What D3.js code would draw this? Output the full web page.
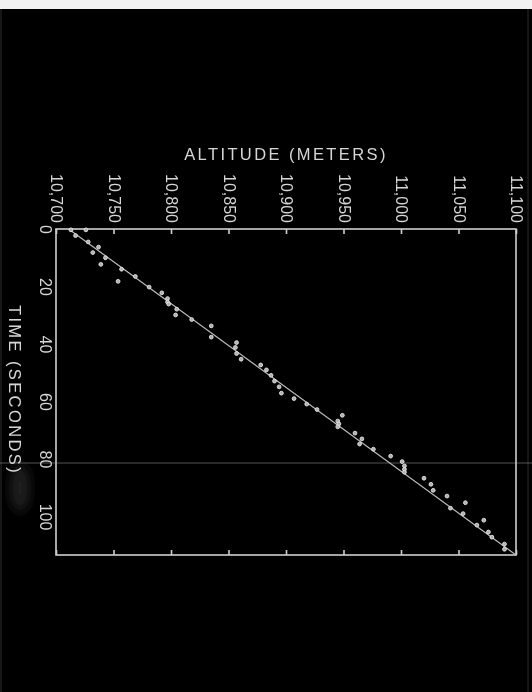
<!DOCTYPE html>
<html>
<head>
<meta charset="utf-8">
<script src="https://cdn.jsdelivr.net/npm/d3@7"></script>
<style>
  body { margin: 0; background: #000; }
  svg { display: block; }
  text { font-family: "Liberation Sans", Arial, sans-serif; fill: #d6d6d6; }
</style>
</head>
<body>
<svg id="chart" width="532" height="692"></svg>
<script>
// data
const altTicks = [10700, 10750, 10800, 10850, 10900, 10950, 11000, 11050, 11100];
const timeTicks = [0, 20, 40, 60, 80, 100];

const altitude = [
  10713, 10726, 10717, 10728, 10737, 10732, 10743, 10739, 10757, 10754,
  10769, 10781, 10792, 10797, 10797, 10798, 10805, 10804, 10818, 10835,
  10835, 10857, 10856, 10857, 10861, 10878, 10883, 10887, 10890, 10894,
  10896, 10907, 10918, 10927, 10949, 10945, 10946, 10945, 10960, 10966,
  10964, 10976, 10991, 11001, 11003, 11003, 11003, 11020, 11026, 11028,
  11040, 11043, 11056, 11054, 11066, 11072, 11076, 11079, 11090, 11090
];
const time = [
  0.3, 0.3, 2.3, 4.5, 6.3, 8.2, 10.0, 12.3, 14.0, 18.2,
  16.5, 20.2, 22.2, 24.2, 25.4, 26.1, 27.9, 29.9, 31.5, 33.7,
  37.6, 39.5, 41.2, 43.3, 45.3, 47.3, 49.0, 50.9, 52.9, 54.9,
  57.1, 59.0, 60.9, 62.8, 64.8, 66.8, 67.8, 68.8, 71.0, 73.0,
  74.8, 76.6, 79.0, 80.9, 82.4, 83.6, 84.6, 86.7, 88.8, 90.9,
  92.9, 97.1, 95.2, 99.0, 103.0, 101.3, 105.4, 107.2, 109.6, 111.4
];

const fitAltitude = [10711, 11100];
const fitTime = [0, 113.4];

const svg = d3.select('#chart');
const W = 532, H = 692;

// Plotbereich
const mLeft = 56, mRight = 516, mTop = 229, mBottom = 555;

const x = d3.scaleLinear().domain([10700, 11100]).range([mLeft, mRight]);
const y = d3.scaleLinear().domain([0, 113.4]).range([mTop, mBottom]);

const defs = svg.append('defs');
defs.append('filter').attr('id', 'soft')
  .append('feGaussianBlur').attr('stdDeviation', 0.45);
defs.append('filter').attr('id', 'smudge')
  .attr('x', '-50%').attr('y', '-50%').attr('width', '200%').attr('height', '200%')
  .append('feGaussianBlur').attr('stdDeviation', 6);

// photo background
svg.append('rect').attr('width', W).attr('height', H).attr('fill', '#000');
svg.append('rect').attr('width', W).attr('height', 9).attr('fill', '#f2f2f2');
svg.append('line')
  .attr('x1', 528).attr('x2', 528).attr('y1', 9).attr('y2', H)
  .attr('stroke', '#2a2a2a').attr('stroke-width', 1);
svg.append('line')
  .attr('x1', 1).attr('x2', 1).attr('y1', 9).attr('y2', H)
  .attr('stroke', '#2e2e2e').attr('stroke-width', 1);
svg.append('ellipse')
  .attr('cx', 20).attr('cy', 488).attr('rx', 9).attr('ry', 24)
  .attr('fill', '#222').attr('filter', 'url(#smudge)');
// crease across the print
svg.append('line')
  .attr('x1', 0).attr('x2', W).attr('y1', 463).attr('y2', 463)
  .attr('stroke', '#8a8a8a').attr('stroke-width', 0.8).attr('opacity', 0.75);

const g = svg.append('g').attr('filter', 'url(#soft)');

// box
g.append('rect')
  .attr('x', mLeft).attr('y', mTop)
  .attr('width', mRight - mLeft).attr('height', mBottom - mTop)
  .attr('fill', 'none').attr('stroke', '#cfcfcf').attr('stroke-width', 1.6);

// top axis: ticks inward, labels rotated
const topAxis = g.append('g')
  .attr('transform', `translate(0,${mTop})`)
  .call(d3.axisTop(x).tickValues(altTicks).tickSize(-5).tickPadding(6).tickFormat(d3.format(',')));
topAxis.select('.domain').remove();
topAxis.selectAll('line').attr('stroke', '#cfcfcf').attr('stroke-width', 1.6);
topAxis.selectAll('text')
  .attr('y', 0).attr('dy', 0)
  .attr('transform', 'translate(0,-6) rotate(90)')
  .attr('text-anchor', 'end')
  .attr('dominant-baseline', 'central')
  .style('font-size', '16px')
  .attr('fill', '#d6d6d6');

// bottom axis: ticks only
const botAxis = g.append('g')
  .attr('transform', `translate(0,${mBottom})`)
  .call(d3.axisBottom(x).tickValues(altTicks).tickSize(-5).tickFormat(''));
botAxis.select('.domain').remove();
botAxis.selectAll('line').attr('stroke', '#cfcfcf').attr('stroke-width', 1.6);

// left axis: labels only
const leftAxis = g.append('g')
  .attr('transform', `translate(${mLeft},0)`)
  .call(d3.axisLeft(y).tickValues(timeTicks).tickSize(0).tickFormat(d3.format('d')));
leftAxis.select('.domain').remove();
leftAxis.selectAll('text')
  .attr('x', 0).attr('dy', 0)
  .attr('transform', 'translate(-11,0) rotate(90)')
  .attr('text-anchor', 'middle')
  .attr('dominant-baseline', 'central')
  .style('font-size', '16px')
  .attr('fill', '#d6d6d6');

// titles
g.append('text')
  .attr('x', 286).attr('y', 160)
  .attr('text-anchor', 'middle')
  .style('font-size', '16.5px')
  .style('letter-spacing', '2.4px')
  .text('ALTITUDE  (METERS)');

g.append('text')
  .attr('transform', 'translate(15,390) rotate(90)')
  .attr('text-anchor', 'middle')
  .attr('dominant-baseline', 'central')
  .style('font-size', '16.5px')
  .style('letter-spacing', '2.4px')
  .text('TIME  (SECONDS)');

// fitted line
const line = d3.line().x(d => x(d[0])).y(d => y(d[1]));
g.append('path')
  .datum(d3.zip(fitAltitude, fitTime))
  .attr('d', line)
  .attr('fill', 'none')
  .attr('stroke', '#bdbdbd')
  .attr('stroke-width', 1.1);

// observations
g.selectAll('circle.pt')
  .data(d3.zip(altitude, time))
  .enter().append('circle')
  .attr('class', 'pt')
  .attr('cx', d => x(d[0]))
  .attr('cy', d => y(d[1]))
  .attr('r', 1.9)
  .attr('fill', '#b0b0b0')
  .attr('stroke', '#e6e6e6')
  .attr('stroke-width', 0.9);
</script>
</body>
</html>
